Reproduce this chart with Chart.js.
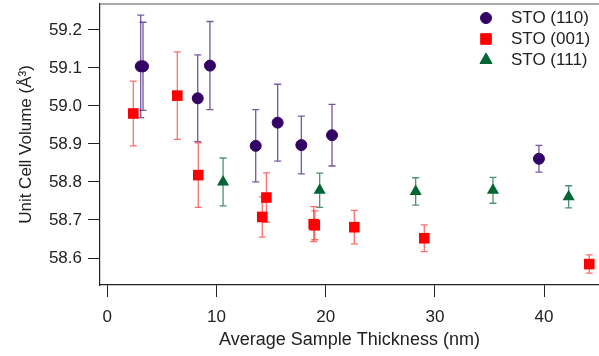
<!DOCTYPE html>
<html>
<head>
<meta charset="utf-8">
<script src="https://cdn.jsdelivr.net/npm/chart.js@4/dist/chart.umd.min.js"></script>
<style>
  html, body { margin: 0; padding: 0; background: #fff; }
  #wrap { width: 599px; height: 356px; }
</style>
</head>
<body>
<div id="wrap"><canvas id="cellChart"></canvas></div>
<script>
// STO (110)
const x110 = [3.06, 3.27, 8.28, 9.40, 13.59, 15.6, 17.77, 20.58, 39.53];
const y110 = [59.104, 59.104, 59.020, 59.106, 58.895, 58.956, 58.897, 58.923, 58.861];
const e110 = [0.135, 0.116, 0.114, 0.116, 0.095, 0.101, 0.076, 0.081, 0.035];

// STO (001)
const x001 = [2.38, 6.41, 8.33, 14.19, 14.57, 18.9, 19.0, 22.62, 29.03, 44.14];
const y001 = [58.980, 59.027, 58.818, 58.708, 58.759, 58.689, 58.686, 58.681, 58.652, 58.584];
const e001 = [0.085, 0.115, 0.085, 0.053, 0.065, 0.046, 0.038, 0.044, 0.035, 0.024];

// STO (111)
const x111 = [10.6, 19.45, 28.24, 35.32, 42.25];
const y111 = [58.800, 58.778, 58.775, 58.778, 58.761];
const e111 = [0.063, 0.045, 0.036, 0.034, 0.029];

const xTicks = [0, 10, 20, 30, 40];
const yTicks = [58.6, 58.7, 58.8, 58.9, 59.0, 59.1, 59.2];

const colors = {
    s110: '#330066',
    s110Err: 'rgba(70, 30, 130, 0.75)',
    s001: '#ff0000',
    s001Err: 'rgba(255, 30, 30, 0.65)',
    s111: '#006633',
    s111Err: 'rgba(0, 100, 55, 0.7)',
    axis: '#222',
};

const FONT = 'Liberation Sans, Arial, Helvetica, sans-serif';

const toPoints = (xs, ys, es) => xs.map((x, i) => ({ x: x, y: ys[i], err: es[i] }));

// error bars drawn under the markers
const errorBars = {
    id: 'errorBars',
    beforeDatasetsDraw(chart) {
        const { ctx, scales: { x, y } } = chart;
        ctx.save();
        chart.data.datasets.forEach(ds => {
            ctx.strokeStyle = ds.errColor;
            ctx.lineWidth = 1.3;
            ds.data.forEach(p => {
                const px = x.getPixelForValue(p.x);
                const top = y.getPixelForValue(p.y + p.err);
                const bot = y.getPixelForValue(p.y - p.err);
                ctx.beginPath();
                ctx.moveTo(px, top); ctx.lineTo(px, bot);
                ctx.moveTo(px - 3.5, top); ctx.lineTo(px + 3.5, top);
                ctx.moveTo(px - 3.5, bot); ctx.lineTo(px + 3.5, bot);
                ctx.stroke();
            });
        });
        ctx.restore();
    },
};

// top frame line + legend in the upper right corner
const frameAndLegend = {
    id: 'frameAndLegend',
    afterDraw(chart) {
        const { ctx, chartArea } = chart;
        ctx.save();
        ctx.strokeStyle = '#555';
        ctx.lineWidth = 1.2;
        ctx.beginPath();
        ctx.moveTo(chartArea.left, chartArea.top);
        ctx.lineTo(chartArea.right, chartArea.top);
        ctx.stroke();

        ctx.font = '17px ' + FONT;
        ctx.textBaseline = 'middle';
        ctx.textAlign = 'left';
        chart.data.datasets.forEach((ds, i) => {
            const ly = 18 + i * 21;
            ctx.fillStyle = ds.backgroundColor;
            ctx.strokeStyle = ds.backgroundColor;
            ctx.lineWidth = 1;
            Chart.helpers.drawPoint(ctx, {
                pointStyle: ds.pointStyle,
                radius: ds.pointRadius,
                borderWidth: 1,
            }, 486, ly);
            ctx.fillStyle = '#222';
            ctx.fillText(ds.label, 511, ly);
        });
        ctx.restore();
    },
};

new Chart(document.getElementById('cellChart').getContext('2d'), {
    type: 'scatter',
    data: {
        datasets: [
            {
                label: 'STO (110)',
                data: toPoints(x110, y110, e110),
                pointStyle: 'circle',
                pointRadius: 5.5,
                backgroundColor: colors.s110,
                borderColor: colors.s110,
                borderWidth: 1,
                errColor: colors.s110Err,
            },
            {
                label: 'STO (001)',
                data: toPoints(x001, y001, e001),
                pointStyle: 'rect',
                pointRadius: 7.5,
                backgroundColor: colors.s001,
                borderColor: colors.s001,
                borderWidth: 0,
                errColor: colors.s001Err,
            },
            {
                label: 'STO (111)',
                data: toPoints(x111, y111, e111),
                pointStyle: 'triangle',
                pointRadius: 7,
                backgroundColor: colors.s111,
                borderColor: colors.s111,
                borderWidth: 0,
                errColor: colors.s111Err,
            },
        ],
    },
    options: {
        responsive: true,
        maintainAspectRatio: false,
        animation: false,
        layout: { autoPadding: false, padding: { top: 4, right: 0, left: 0, bottom: 0 } },
        plugins: {
            legend: { display: false },
            tooltip: { enabled: false },
        },
        scales: {
            x: {
                type: 'linear',
                min: -0.67,
                max: 45.03,
                afterBuildTicks: s => { s.ticks = xTicks.map(v => ({ value: v })); },
                afterFit: s => {
                    s.height = 71;
                    s.paddingLeft = 0;
                    s.paddingRight = 0;
                },
                grid: { drawOnChartArea: false, tickLength: 12, color: colors.axis, lineWidth: 1 },
                border: { display: true, color: colors.axis, width: 1.2 },
                ticks: { color: '#222', padding: 10, maxRotation: 0, font: { family: FONT, size: 17 } },
                title: {
                    display: true,
                    text: 'Average Sample Thickness (nm)',
                    color: '#222',
                    font: { family: FONT, size: 18 },
                    padding: { top: 0, bottom: 5 },
                },
            },
            y: {
                type: 'linear',
                min: 58.529,
                max: 59.268,
                afterBuildTicks: s => { s.ticks = yTicks.map(v => ({ value: v })); },
                afterFit: s => {
                    s.width = 100;
                    s.paddingTop = 0;
                    s.paddingBottom = 0;
                },
                grid: { drawOnChartArea: false, tickLength: 12, color: colors.axis, lineWidth: 1 },
                border: { display: true, color: colors.axis, width: 1.2 },
                ticks: {
                    color: '#222',
                    padding: 6,
                    font: { family: FONT, size: 17 },
                    callback: v => v.toFixed(1),
                },
                title: {
                    display: true,
                    text: 'Unit Cell Volume (Å³)',
                    color: '#222',
                    font: { family: FONT, size: 17 },
                    padding: { top: 16, bottom: 0 },
                },
            },
        },
    },
    plugins: [errorBars, frameAndLegend],
});
</script>
</body>
</html>
